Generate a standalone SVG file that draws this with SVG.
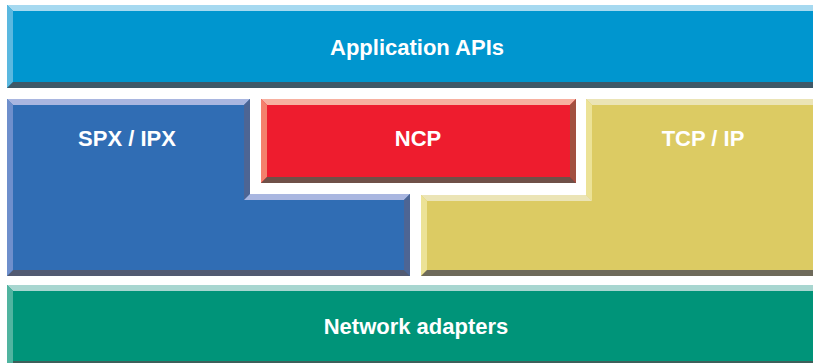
<svg xmlns="http://www.w3.org/2000/svg" width="813" height="363" viewBox="0 0 813 363">
<style>
text{font-family:"Liberation Sans",Arial,sans-serif;font-weight:bold;font-size:22px;fill:#ffffff;text-anchor:middle}
</style>
<rect width="813" height="363" fill="#ffffff"/>
<g id="app">
<rect x="7" y="5" width="806" height="83" fill="#0096cf"/>
<polygon points="7,5 813,5 813,11 13,11" fill="#a6d9f0"/>
<polygon points="7,5 13,11 13,82 7,88" fill="#5ab8e0"/>
<polygon points="7,88 13,82 813,82 813,88" fill="#3f5968"/>
<text x="417" y="55">Application APIs</text>
</g>
<g id="spx">
<polygon points="7,99 250,99 250,194 410,194 410,276 7,276" fill="#306db4"/>
<polygon points="7,99 250,99 244,105 13,105" fill="#a9b6e0"/>
<polygon points="244,105 250,99 250,194 244,200" fill="#4d6594"/>
<polygon points="244,200 250,194 410,194 404,200" fill="#a9b6e0"/>
<polygon points="410,194 410,276 404,270 404,200" fill="#4d6594"/>
<polygon points="7,276 410,276 404,270 13,270" fill="#525a72"/>
<polygon points="7,99 13,105 13,270 7,276" fill="#6e8fcc"/>
<text x="127" y="146">SPX / IPX</text>
</g>
<g id="ncp">
<rect x="261" y="99" width="315" height="84" fill="#ee1c2e"/>
<polygon points="261,99 576,99 570,105 267,105" fill="#f7b0a0"/>
<polygon points="261,99 267,105 267,177 261,183" fill="#f4806c"/>
<polygon points="576,99 576,183 570,177 570,105" fill="#a25040"/>
<polygon points="261,183 267,177 570,177 576,183" fill="#6f5048"/>
<text x="418" y="146">NCP</text>
</g>
<g id="tcp">
<polygon points="586,99 813,99 813,276 421,276 421,195 586,195" fill="#dccb63"/>
<polygon points="586,99 813,99 813,105 592,105" fill="#ebe4b6"/>
<polygon points="586,99 592,105 592,201 586,195" fill="#ece296"/>
<polygon points="421,195 586,195 592,201 427,201" fill="#ebe4b6"/>
<polygon points="421,195 427,201 427,270 421,276" fill="#ece296"/>
<polygon points="421,276 427,270 813,270 813,276" fill="#6e6a5a"/>
<text x="703" y="146">TCP / IP</text>
</g>
<g id="net">
<rect x="7" y="285" width="806" height="78" fill="#009479"/>
<polygon points="7,285 813,285 813,291 13,291" fill="#a8d6d0"/>
<polygon points="7,285 13,291 13,363 7,363" fill="#50b4a0"/>
<rect x="13" y="361" width="800" height="2" fill="#3e5f5a"/>
<text x="416" y="334">Network adapters</text>
</g>
<g id="connectors"></g>
</svg>
